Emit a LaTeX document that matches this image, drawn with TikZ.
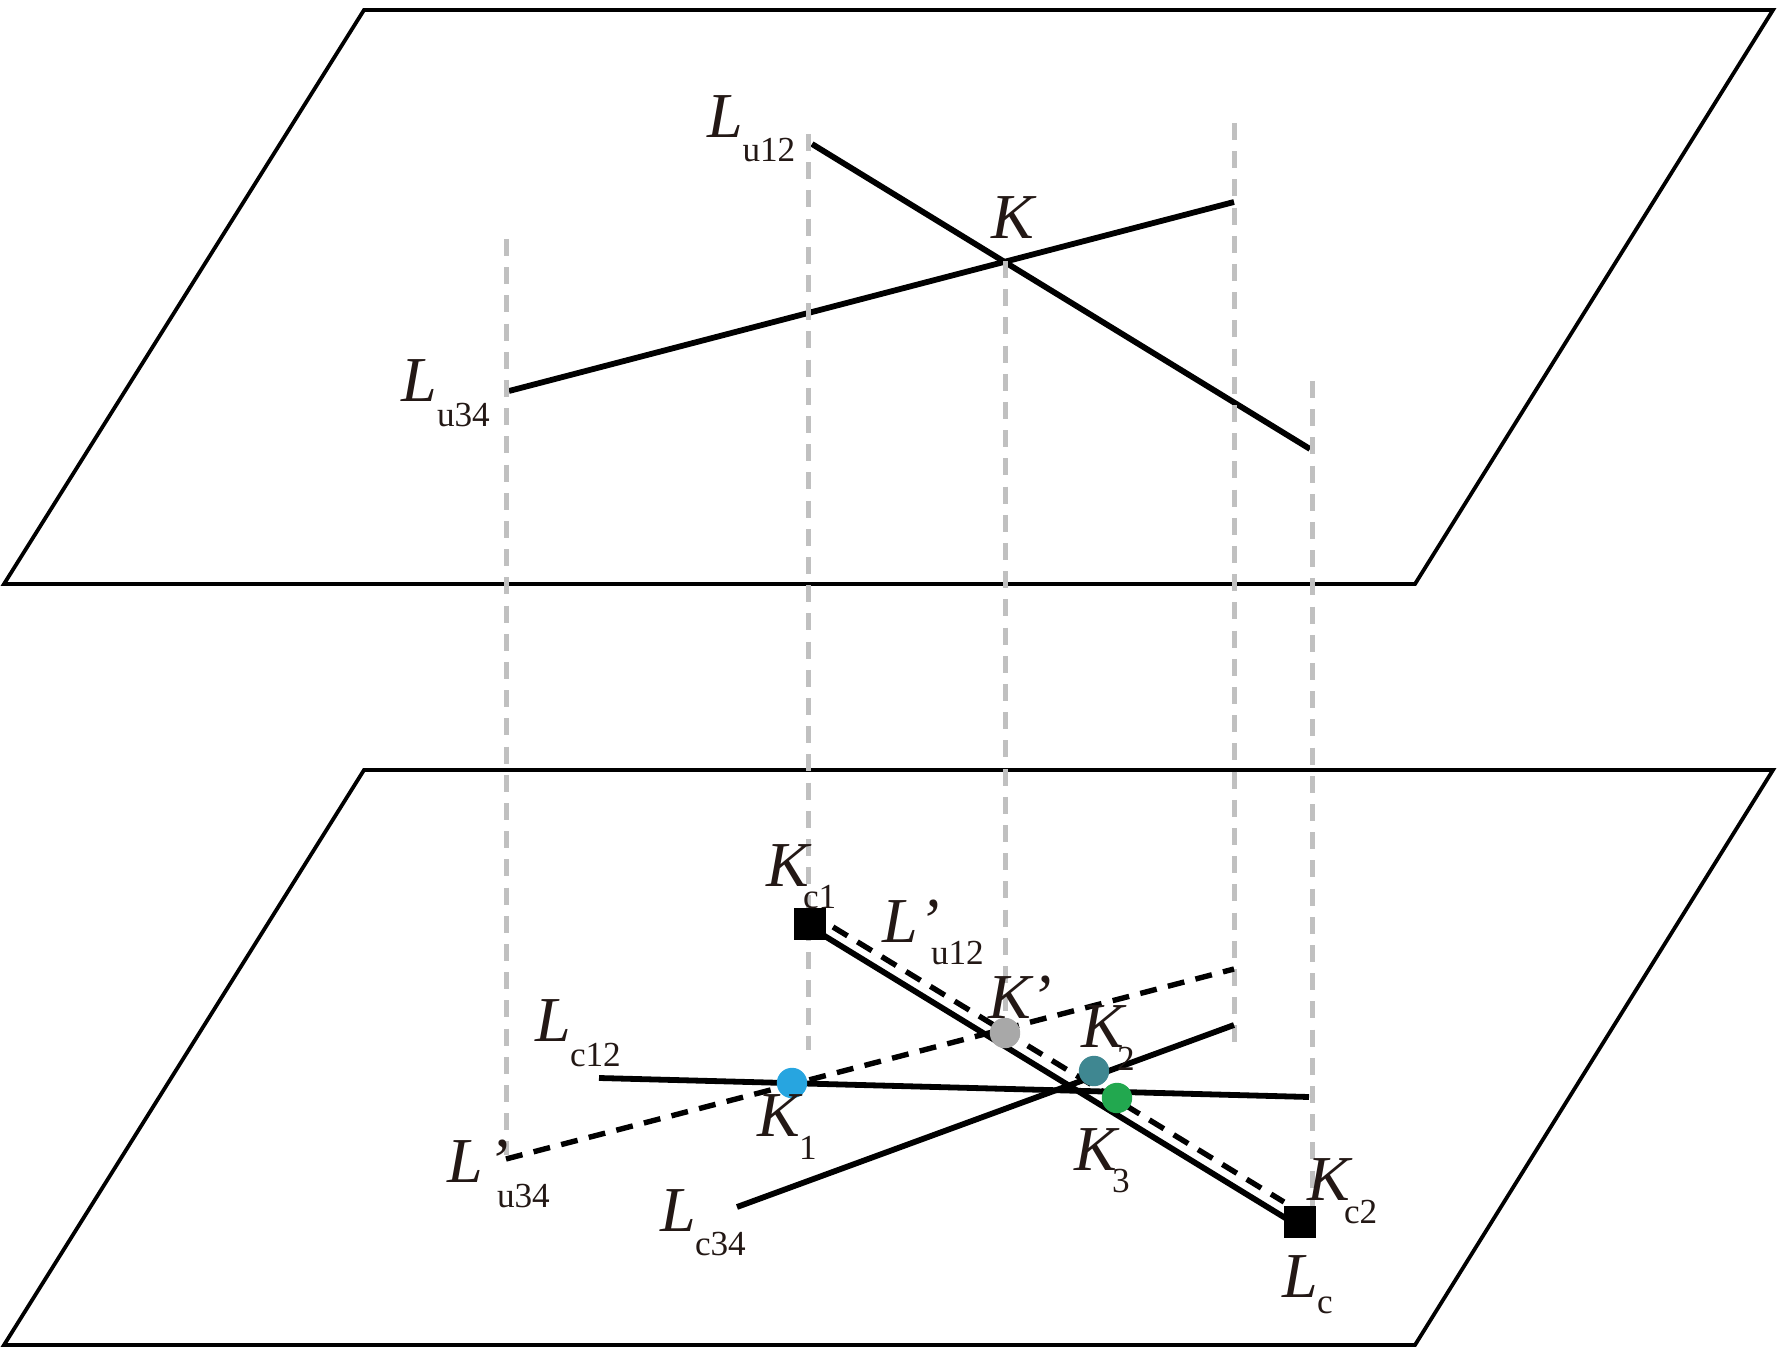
\documentclass[tikz,border=0pt]{standalone}
\usepackage{fontspec}
\setmainfont{Liberation Serif}
\definecolor{inkc}{HTML}{231815}
\definecolor{guidec}{HTML}{C0C0C0}
\definecolor{k1c}{HTML}{27A5E0}
\definecolor{kpc}{HTML}{A8A8A8}
\definecolor{k2c}{HTML}{3F8791}
\definecolor{k3c}{HTML}{22A84F}
\newcommand{\mainsize}{\fontsize{32pt}{32pt}\selectfont\itshape}
\newcommand{\subsize}{\fontsize{17.6pt}{17.6pt}\selectfont}
% #1 main letter, #2 subscript x offset (px), #3 subscript drop (px), #4 subscript
\newcommand{\lbmain}[4]{\rlap{\mainsize #1}\kern #2\dimexpr 0.5pt\relax\raisebox{-#3\dimexpr 0.5pt\relax}{\subsize #4}}
% same, with an apostrophe at x offset #5 (px)
\newcommand{\lbprime}[5]{\rlap{\mainsize #1}\rlap{\kern #5\dimexpr 0.5pt\relax\mainsize ’}\kern #2\dimexpr 0.5pt\relax\raisebox{-#3\dimexpr 0.5pt\relax}{\subsize #4}}
\tikzset{
  plane/.style={draw=black,line width=1.9pt,line join=miter},
  solidl/.style={draw=black,line width=2.9pt},
  dashl/.style={draw=black,line width=2.7pt,dash pattern=on 8.5pt off 5.75pt},
  guide/.style={draw=guidec,line width=2.5pt,dash pattern=on 8.5pt off 5.6pt},
  lab/.style={anchor=base west,inner sep=0pt,outer sep=0pt,text=inkc},
  dot/.style={circle,inner sep=0pt,outer sep=0pt,minimum size=15.2pt},
  sq/.style={rectangle,fill=black,inner sep=0pt,outer sep=0pt,minimum size=15.6pt}
}
\begin{document}
\begin{tikzpicture}[x=0.5pt,y=-0.5pt]
\useasboundingbox (0,0) rectangle (1778,1347);
% planes
\draw[plane] (364,10) -- (1773,10) -- (1415,584) -- (4,584) -- cycle;
\draw[plane] (364,770) -- (1773,770) -- (1415,1345) -- (4,1345) -- cycle;
% named end points
\coordinate (u34a) at (509,391);
\coordinate (u34b) at (1234,202);
\coordinate (u12a) at (812,144);
\coordinate (u12b) at (1310,449);
\coordinate (g1a) at (506,239);  \coordinate (g1b) at (506,1155);
\coordinate (g2a) at (808,134);  \coordinate (g2b) at (808,1050);
\coordinate (g3a) at (1005,261); \coordinate (g3b) at (1005,1025);
\coordinate (g4a) at (1234,123); \coordinate (g4b) at (1234,1044);
\coordinate (g5a) at (1312,381); \coordinate (g5b) at (1312,1207);
\coordinate (lca) at (823,935);
\coordinate (lcb) at (1287,1219);
\coordinate (lpa) at (833,927);
\coordinate (lpb) at (1284,1202);
\coordinate (lqa) at (506,1159);
\coordinate (lqb) at (1234,969);
\coordinate (c12a) at (599,1078);
\coordinate (c12b) at (1309,1097);
\coordinate (c34a) at (737,1207);
\coordinate (c34b) at (1234,1025);
% upper lines
\draw[solidl] (u34a) -- (u34b);
\draw[solidl] (u12a) -- (u12b);
% guides
\draw[guide] (g1a) -- (g1b);
\draw[guide] (g2a) -- (g2b);
\draw[guide] (g3a) -- (g3b);
\draw[guide] (g4a) -- (g4b);
\draw[guide] (g5a) -- (g5b);
% lower lines
\draw[dashl] (lqa) -- (lqb);
\draw[dashl] (lpa) -- (lpb);
\draw[solidl] (c12a) -- (c12b);
\draw[solidl] (c34a) -- (c34b);
\draw[solidl] (lca) -- (lcb);
% markers
\node[sq] (sq1) at (810,924) {};
\node[sq] (sq2) at (1300,1222) {};
\node[dot,fill=k1c] (k1) at (792,1083) {};
\node[dot,fill=kpc] (kp) at (1005,1033) {};
\node[dot,fill=k2c] (k2) at (1094,1071) {};
\node[dot,fill=k3c] (k3) at (1117,1098) {};
% labels
\node[lab] (tLu12) at (707,138) {\lbmain{L}{35.5}{24}{u12}};
\node[lab] (tK) at (991,239) {\mainsize K};
\node[lab] (tLu34) at (401,402) {\lbmain{L}{36}{25}{u34}};
\node[lab] (tKc1) at (766,886) {\lbmain{K}{37}{22}{c1}};
\node[lab] (tLpu12) at (882,942) {\lbprime{L}{49}{22}{u12}{37}};
\node[lab] (tKp) at (988,1018) {\mainsize K’};
\node[lab] (tK2) at (1081,1047) {\lbmain{K}{36}{23}{2}};
\node[lab] (tK1) at (757,1136) {\lbmain{K}{42}{23}{1}};
\node[lab] (tK3) at (1074,1170) {\lbmain{K}{38}{22}{3}};
\node[lab] (tKc2) at (1307,1200) {\lbmain{K}{37}{23}{c2}};
\node[lab] (tLc) at (1282,1297) {\lbmain{L}{35}{16}{c}};
\node[lab] (tLc12) at (535,1041) {\lbmain{L}{35}{25}{c12}};
\node[lab] (tLpu34) at (447,1182) {\lbprime{L}{50}{25}{u34}{41}};
\node[lab] (tLc34) at (660,1231) {\lbmain{L}{35}{24}{c34}};
\end{tikzpicture}
\end{document}
